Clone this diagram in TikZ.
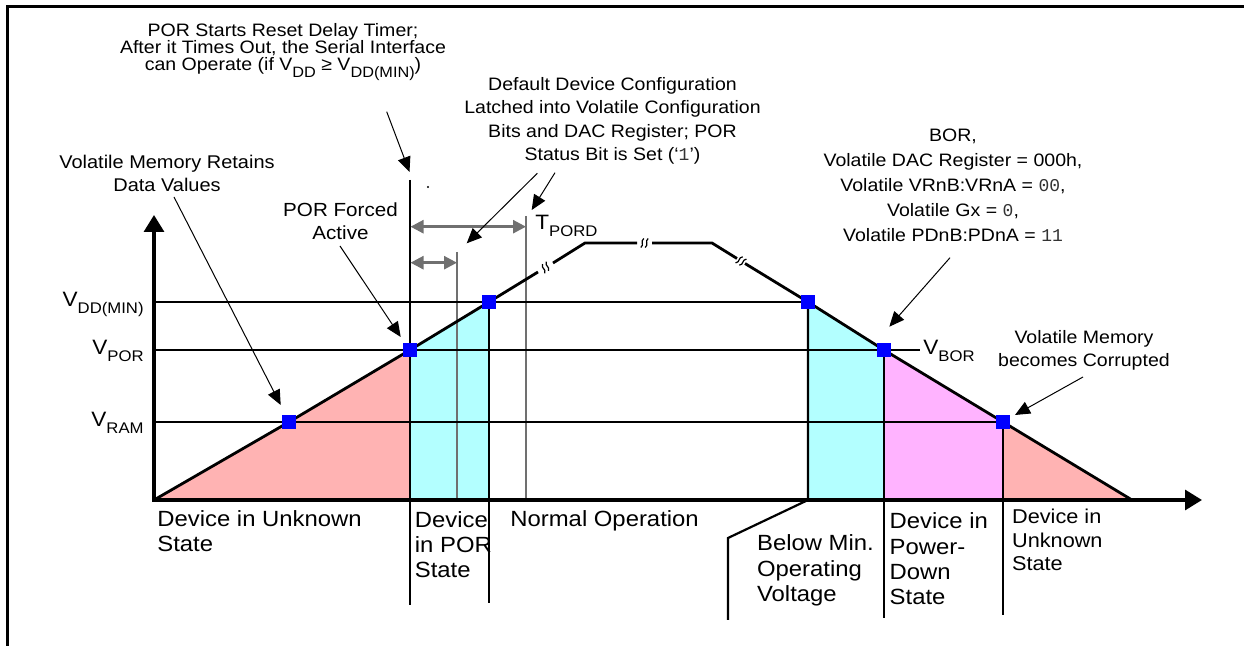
\documentclass[tikz,border=0pt]{standalone}
\usepackage{fontspec}
\setmainfont{Liberation Sans}[FakeStretch=1.085]
\newfontfamily\monof{Liberation Mono}
\usetikzlibrary{arrows.meta}
\definecolor{pinkf}{RGB}{255,179,179}
\definecolor{cyanf}{RGB}{179,255,255}
\definecolor{magf}{RGB}{255,179,255}
\definecolor{dimgray}{RGB}{112,112,112}
\newcommand{\lsub}[2][7.7]{\raisebox{-3.3pt}{\fontsize{#1}{#1}\selectfont #2}}
\newcommand{\mv}[1]{{\monof\color{black!80}#1}}
\newcommand{\tightls}{\lineskiplimit=-20pt\relax}
\begin{document}
\begin{tikzpicture}[x=0.5pt,y=-0.5pt,
  frameline/.style={line width=1.5pt},
  axis/.style={line width=1.6pt,-{Triangle[length=8.5pt,width=10pt]}},
  level/.style={line width=1.2pt},
  ramp/.style={line width=1.4pt,line join=round},
  vbound/.style={line width=1.1pt},
  gline/.style={draw=dimgray,line width=1pt},
  dimarrow/.style={draw=dimgray,line width=1.3pt,{Triangle[length=6.5pt,width=6.5pt]}-{Triangle[length=6.5pt,width=6.5pt]}},
  pointer/.style={line width=0.5pt,-{Triangle[length=7.5pt,width=6.5pt]}},
  sq/.style={rectangle,fill=blue,minimum size=7pt,inner sep=0},
  brk/.style={line width=0.6pt},
  txt/.style={inner sep=0,align=center,font=\fontsize{9}{12}\selectfont},
  btxt/.style={inner sep=0,align=left,font=\fontsize{11}{12.7}\selectfont},
  vlab/.style={inner sep=0,font=\fontsize{10.4}{12}\selectfont}
]
\useasboundingbox (0,0) rectangle (1244,646);
% frame
\draw[frameline] (7,646) -- (7,7) -- (1244,7);
% fills
\fill[pinkf] (154,500) -- (289,422) -- (410,350) -- (410,500) -- cycle;
\fill[cyanf] (410,500) -- (410,350) -- (489,302) -- (489,500) -- cycle;
\fill[cyanf] (808,500) -- (808,302) -- (884,350) -- (884,500) -- cycle;
\fill[magf] (884,500) -- (884,350) -- (1003,422) -- (1003,500) -- cycle;
\fill[pinkf] (1003,500) -- (1003,422) -- (1132,500) -- cycle;
% gray lines
\draw[gline] (457,252) -- (457,500);
\draw[gline] (526,216) -- (526,500);
% vertical boundaries
\draw[vbound] (410,180) -- (410,605);
\draw[vbound] (489,302) -- (489,603);
\draw[vbound] (808,302) -- (808,500) -- (728,538) -- (728,620);
\draw[vbound] (884,350) -- (884,618);
\draw[vbound] (1003,422) -- (1003,615);
% levels
\draw[level] (154,302) -- (808,302);
\draw[level] (154,350) -- (920,350);
\draw[level] (154,422) -- (1003,422);
% axes
\draw[axis] (154,501) -- (154,215);
\draw[axis] (152,500) -- (1202,500);
% ramp
\draw[ramp] (154,500) -- (289,422) -- (410,350) -- (489,302) -- (538,272);
\draw[ramp] (553,263) -- (585,243) -- (637,243);
\draw[ramp] (652,243) -- (712,243) -- (737,258.5);
\draw[ramp] (745,263.5) -- (808,302) -- (884,350) -- (1003,422) -- (1132,500);
% break marks
\foreach \cx/\cy/\ang in {545.5/267.5/31.6, 644.5/243/0, 741/261/-31.6}{
  \begin{scope}[shift={(\cx,\cy)},rotate=\ang]
    \foreach \dx in {-2.2,2.2}{
      \draw[brk] (\dx-1.5,4.5) .. controls (\dx+2.5,1.5) and (\dx-2.5,-1.5) .. (\dx+1.5,-4.5);
    }
  \end{scope}
}
% dimension arrows
\draw[dimarrow] (410.5,226.7) -- (526,226.7);
\draw[dimarrow] (410.5,262.7) -- (457,262.7);
% dot
\fill (428,187) circle (0.6pt);
% squares
\node[sq] (pRAM) at (289,422) {};
\node[sq] (pPOR) at (410,350) {};
\node[sq] (pDD) at (489,302) {};
\node[sq] (qDD) at (808,302) {};
\node[sq] (qBOR) at (884,350) {};
\node[sq] (qRAM) at (1003,422) {};
% axis labels
\node[vlab,anchor=base east] (lDD) at (144,306.7) {V\lsub{DD(MIN)}};
\node[vlab,anchor=base east] (lPOR) at (144,355) {V\lsub{POR}};
\node[vlab,anchor=base east] (lRAM) at (144,426.7) {V\lsub{RAM}};
\node[vlab,anchor=base west] (lBOR) at (923,355) {V\lsub{BOR}};
\node[vlab,anchor=base west] (tpord) at (535,230) {T\lsub{PORD}};
% top annotations (anchor = baseline of last line)
\node[txt,anchor=base,font=\fontsize{9}{8.5}\selectfont\tightls] (porst) at (283,70.5)
  {POR Starts Reset Delay Timer;\\After it Times Out, the Serial Interface\\can Operate (if V\lsub[7.5]{DD} ≥ V\lsub[7.5]{DD(MIN)})};
\node[txt,anchor=base,font=\fontsize{9.2}{11.7}\selectfont] (volret) at (167,191.7)
  {Volatile Memory Retains\\Data Values};
\node[txt,anchor=base,font=\fontsize{9.5}{11.7}\selectfont] (porf) at (340.5,240)
  {POR Forced\\Active};
\node[txt,anchor=base,font=\fontsize{9}{11.8}\selectfont] (ddc) at (612.5,161)
  {Default Device Configuration\\Latched into Volatile Configuration\\Bits and DAC Register; POR\\Status Bit is Set (‘\mv{1}’)};
\node[txt,anchor=base,font=\fontsize{9}{12.5}\selectfont] (bor) at (953,241.7)
  {BOR,\\Volatile DAC Register = 000h,\\Volatile VRnB:VRnA = \mv{00},\\Volatile Gx = \mv{0},\\Volatile PDnB:PDnA = \mv{11}};
\node[txt,anchor=base,font=\fontsize{9}{11.7}\selectfont] (corr) at (1084,367)
  {Volatile Memory\\becomes Corrupted};
% bottom labels (anchor = baseline of last line)
\node[btxt,anchor=base west] (unk1) at (157,552) {Device in Unknown\\State};
\node[btxt,anchor=base west] (porstate) at (414.5,578) {Device\\in POR\\State};
\node[btxt,anchor=base west] (normal) at (510,526.7) {Normal Operation};
\node[btxt,anchor=base west] (below) at (756.7,601.7) {Below Min.\\Operating\\Voltage};
\node[btxt,anchor=base west] (pdown) at (889.3,605) {Device in\\Power-\\Down\\State};
\node[btxt,anchor=base west,font=\fontsize{10}{11.8}\selectfont] (unk2) at (1011.7,570.7) {Device in\\Unknown\\State};
% pointer arrows
\coordinate (s1) at (386.7,111.7); \coordinate (e1) at (409.5,172);
\coordinate (s2) at (174,197);     \coordinate (e2) at (280.7,405);
\coordinate (s3) at (340,246);     \coordinate (e3) at (400.7,337);
\coordinate (s4) at (537.3,173.3); \coordinate (e4) at (466.7,243.3);
\coordinate (s5) at (555,172.7);   \coordinate (e5) at (531.7,210);
\coordinate (s6) at (950,257.7);   \coordinate (e6) at (889.3,326.7);
\coordinate (s7) at (1083,377);    \coordinate (e7) at (1015,415);
\foreach \i in {1,...,7}{\draw[pointer] (s\i) -- (e\i);}
\end{tikzpicture}
\end{document}
